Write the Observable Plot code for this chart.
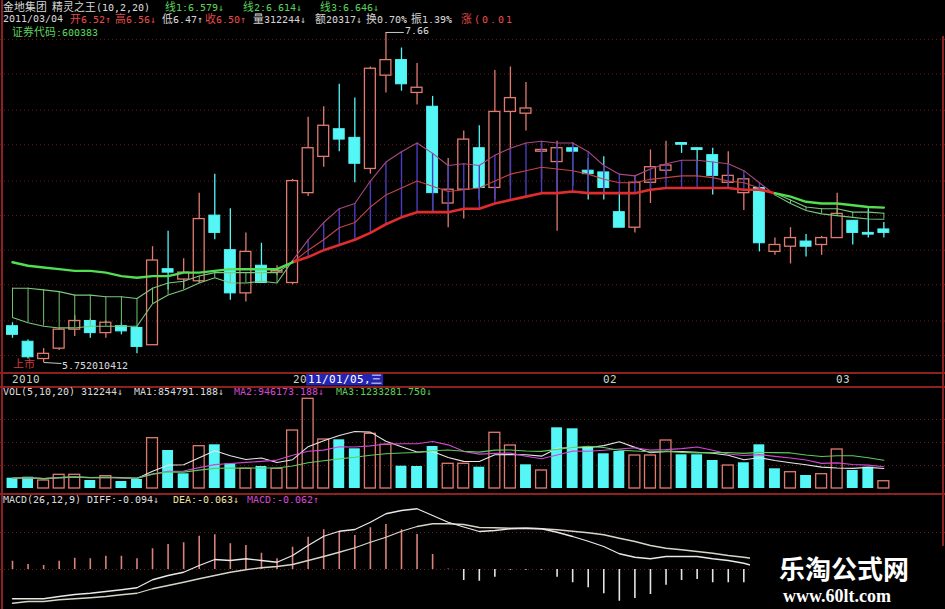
<!DOCTYPE html>
<html>
<head>
<meta charset="utf-8">
<script src="https://cdn.jsdelivr.net/npm/d3@7"></script>
<script src="https://cdn.jsdelivr.net/npm/@observablehq/plot@0.6"></script>
<style>
  @font-face { font-family: "TightMono"; src: local("DejaVu Sans Mono"), local("DejaVuSansMono"); ascent-override: 82%; descent-override: 18%; line-gap-override: 0%; }
  @font-face { font-family: "TightCJK"; src: local("Noto Sans CJK SC Regular"), local("NotoSansCJKsc-Regular"), local("Noto Sans CJK SC"); ascent-override: 86%; descent-override: 12%; line-gap-override: 0%; }
  @font-face { font-family: "TightCJKBold"; src: local("Noto Sans CJK SC Bold"), local("NotoSansCJKsc-Bold"); font-weight: bold; ascent-override: 86%; descent-override: 12%; line-gap-override: 0%; }
  html, body { margin:0; padding:0; background:#000; }
  #root { position:relative; width:945px; height:609px; background:#000; overflow:hidden; }
  .layer { position:absolute; left:0; }
  .txt { position:absolute; white-space:nowrap; font-family:"TightMono", "DejaVu Sans Mono", monospace; line-height:10px; height:10px; }
  .cjk { font-family:"TightCJK", "Noto Sans CJK SC", sans-serif; line-height:10px; }
  .sep { position:absolute; background:#8e2020; }
</style>
</head>
<body>
<div id="root"></div>
<script>
// ---------------- DATA ----------------
const opens  = [5.96,5.87,5.77,5.83,5.94,5.99,5.92,5.96,5.95,5.85, 6.29,6.23,6.22,6.60,6.40,6.15,6.31,6.27,6.21,6.73, 6.94,7.10,7.05,6.87,7.41,7.50,7.31,7.23,6.67,6.75, 6.99,6.76,7.20,7.19,6.97,6.91,6.99,6.86,6.85,6.62, 6.53,6.79,6.86,7.02,6.99,6.95,6.79,6.73,6.76,6.39, 6.42,6.45,6.43,6.47,6.57,6.50,6.52];
const highs  = [5.98,5.88,5.83,5.95,6.02,6.00,5.99,5.98,5.96,6.42, 6.51,6.35,6.73,6.84,6.64,6.50,6.44,6.31,6.81,7.17, 7.23,7.36,7.28,7.46,7.66,7.57,7.48,7.29,6.93,7.09, 7.12,7.44,7.46,7.37,7.02,7.03,7.02,6.93,6.94,6.73, 6.83,6.98,7.03,7.02,6.99,6.99,6.97,6.83,6.76,6.47, 6.53,6.49,6.48,6.73,6.57,6.64,6.56];
const lows   = [5.89,5.77,5.75,5.82,5.90,5.89,5.89,5.91,5.80,5.85, 6.17,6.18,6.21,6.46,6.11,6.10,6.21,6.25,6.20,6.71, 6.88,6.97,6.79,6.84,7.31,7.32,7.24,6.62,6.53,6.58, 6.69,6.69,6.77,7.09,6.81,6.51,6.77,6.69,6.69,6.53, 6.50,6.67,6.83,6.96,6.82,6.72,6.76,6.63,6.39,6.37, 6.32,6.36,6.37,6.47,6.43,6.47,6.47];
const closes = [5.91,5.78,5.80,5.94,5.99,5.92,5.98,5.93,5.84,6.34, 6.27,6.27,6.58,6.50,6.15,6.39,6.21,6.28,6.80,6.99, 7.12,7.04,6.90,7.45,7.50,7.36,7.34,6.73,6.75,7.04, 6.76,7.20,7.28,7.22,6.98,6.99,6.97,6.84,6.76,6.53, 6.79,6.88,6.89,7.01,6.98,6.83,6.83,6.81,6.44,6.43, 6.47,6.42,6.47,6.61,6.50,6.49,6.50];

// 精灵之王 (10,2,20): three band lines
const bandFast = [6.01,5.98,5.96,5.95,5.95,5.96,5.96,5.96,5.96,6.09, 6.14,6.17,6.21,6.24,6.21,6.21,6.22,6.21,6.34,6.46, 6.56,6.64,6.67,6.80,6.91,6.97,7.02,6.96,6.89,6.90, 6.89,6.95,6.99,7.02,7.03,7.02,7.02,6.97,6.89,6.84, 6.83,6.87,6.90,6.92,6.92,6.91,6.90,6.86,6.79,6.72, 6.67,6.63,6.61,6.60,6.59,6.58,6.579];
const bandMid  = [6.18,6.18,6.17,6.16,6.14,6.14,6.13,6.13,6.12,6.18, 6.21,6.22,6.25,6.27,6.27,6.27,6.27,6.27,6.33,6.40, 6.46,6.53,6.56,6.65,6.72,6.76,6.80,6.77,6.74,6.75, 6.76,6.80,6.84,6.86,6.88,6.87,6.86,6.84,6.81,6.79, 6.79,6.81,6.82,6.83,6.83,6.82,6.80,6.79,6.76,6.73, 6.69,6.65,6.64,6.64,6.62,6.62,6.614];
const bandSlow = [6.33,6.31,6.30,6.29,6.28,6.28,6.27,6.25,6.24,6.25, 6.25,6.27,6.27,6.28,6.29,6.29,6.29,6.29,6.33,6.36, 6.40,6.43,6.46,6.50,6.55,6.59,6.62,6.62,6.62,6.64, 6.64,6.67,6.69,6.71,6.73,6.73,6.74,6.73,6.73,6.73, 6.73,6.75,6.76,6.76,6.76,6.76,6.76,6.75,6.75,6.73, 6.71,6.68,6.67,6.67,6.66,6.65,6.646];

const volumes = [443000,486000,344000,589000,589000,344000,530000,301000,387000,2163000, 1634000,632000,1819000,1879000,1062000,847000,946000,847000,2494000,3857000, 2107000,2094000,1707000,2352000,1879000,959000,946000,1806000,1062000,1062000, 916000,2395000,1849000,1019000,774000,2610000,2567000,1776000,1492000,1591000, 1419000,1419000,2064000,1449000,1449000,1204000,989000,1105000,1879000,847000, 701000,559000,615000,1677000,774000,916000,312244];
const volUp = [0,0,1,1,1,0,1,0,0,1, 0,0,1,0,0,1,0,1,1,1, 1,0,0,1,1,0,0,0,1,1, 0,1,1,0,1,0,0,0,0,0, 1,1,1,0,0,0,1,0,0,0, 1,0,1,1,0,0,1];
const volMaPeriods = [5, 10, 20];

const macdDiff = [-0.117,-0.117,-0.117,-0.108,-0.100,-0.095,-0.088,-0.081,-0.073,-0.041, -0.024,-0.011,0.016,0.040,0.036,0.043,0.036,0.029,0.056,0.096, 0.133,0.153,0.160,0.189,0.223,0.236,0.243,0.216,0.189,0.170, 0.152,0.156,0.163,0.165,0.163,0.149,0.132,0.113,0.092,0.063, 0.049,0.043,0.052,0.052,0.052,0.043,0.036,0.025,0.008];
const macdDea  = [-0.135,-0.128,-0.128,-0.121,-0.117,-0.113,-0.108,-0.101,-0.095,-0.077, -0.064,-0.051,-0.037,-0.024,-0.011,-0.001,0.007,0.012,0.020,0.036, 0.052,0.069,0.087,0.109,0.129,0.153,0.172,0.183,0.183,0.180, 0.168,0.167,0.165,0.165,0.163,0.159,0.153,0.147,0.139,0.125, 0.112,0.096,0.085,0.079,0.072,0.065,0.056,0.049,0.040];
const macdBar  = [0.033,0.020,0.016,0.033,0.045,0.043,0.053,0.053,0.043,0.083, 0.100,0.107,0.133,0.139,0.103,0.096,0.065,0.043,0.089,0.129, 0.159,0.149,0.136,0.167,0.180,0.159,0.140,0.060,0.002,-0.044, -0.047,-0.031,-0.003,-0.003,-0.003,-0.031,-0.053,-0.073,-0.097,-0.127, -0.116,-0.100,-0.063,-0.044,-0.040,-0.053,-0.053,-0.053];

const axisLabels = ["2010", "02", "03"];
const axisLabelIdx = [0, 38, 53];
const cursorIdx = 18;
const cursorLabel = ["20", "11/01/05,三"];

const gridPrices = [7.62, 7.42, 7.21, 7.01, 6.80, 6.60, 6.40, 6.20, 5.99, 5.79];
const volGrid = [989000, 1978000, 2967000];
const macdGrid = [0, 0.148];

const headerTitle = ["金地集团", "精灵之王(10,2,20)"];
const headerLines = ["线1:6.579↓", "线2:6.614↓", "线3:6.646↓"];
const quoteRow = ["2011/03/04", "开6.52↑", "高6.56↓", "低6.47↑", "收6.50↑", "量312244↓", "额20317↓", "换0.70%", "振1.39%", "涨(0.01"];
const codeLabel = "证券代码:600383";
const listingTag = "上市";
const listingDate = "2010412";
const volHeader = ["VOL(5,10,20) 312244↓", "MA1:854791.188↓", "MA2:946173.188↓", "MA3:1233281.750↓"];
const macdHeader = ["MACD(26,12,9) DIFF:-0.094↓", "DEA:-0.063↓", "MACD:-0.062↑"];
const watermark = ["乐淘公式网", "www.60lt.com"];

// ---------------- LAYOUT / STYLE ----------------
const W = 945, STEP = 15.56, X0 = 12;
const N = opens.length;
const xDomain = [-X0 / STEP, (W - X0) / STEP];
const HALF = 0.35;
const UP = "#e07b70", DOWN = "#54f6f6", GRID = "#6e1c1c";
const MONO = "TightMono, DejaVu Sans Mono, monospace";
const CJK = "TightCJK, Noto Sans CJK SC, sans-serif";
const fmt2 = d3.format(".2f");

const root = document.getElementById("root");
function place(el, top) {
  const wrap = document.createElement("div");
  wrap.className = "layer";
  wrap.style.top = top + "px";
  wrap.appendChild(el);
  root.appendChild(wrap);
}
function addText(str, x, y, color, size, extra) {
  const d = document.createElement("div");
  d.className = "txt";
  d.style.left = x + "px";
  d.style.top = (y - 5) + "px";
  d.style.color = color;
  d.style.fontSize = size + "px";
  d.innerHTML = str.replace(/[\u4e00-\u9fff]/g, c => `<span class="cjk" style="font-size:${(size * 1.08).toFixed(1)}px">${c}</span>`);
  if (extra) Object.assign(d.style, extra);
  root.appendChild(d);
  return d;
}
function sep(x, y, w, h) {
  const d = document.createElement("div");
  d.className = "sep";
  Object.assign(d.style, {left: x + "px", top: y + "px", width: w + "px", height: h + "px"});
  root.appendChild(d);
}
const baseStyle = {background: "transparent", overflow: "visible", color: "#ccc"};

// candles
const candles = d3.range(N).map(i => ({i, o: opens[i], h: highs[i], l: lows[i], c: closes[i], up: closes[i] >= opens[i]}));
const upC = candles.filter(d => d.up), dnC = candles.filter(d => !d.up);

// band segments by trend (bull when fast above slow)
const trend = d3.range(N).map(i => bandFast[i] > bandSlow[i]);
const runs = [];
let s0 = 0;
for (let i = 1; i <= N; i++) {
  if (i === N || trend[i] !== trend[s0]) { runs.push({s: s0, e: Math.min(i, N - 1), bull: trend[s0]}); s0 = i; }
}
const bandSeries = {fast: bandFast, mid: bandMid, slow: bandSlow};
const bandPts = [];
runs.forEach((r, k) => {
  for (const name of ["fast", "mid", "slow"]) {
    for (let i = r.s; i <= r.e; i++) bandPts.push({i, v: bandSeries[name][i], key: name + k, name, bull: r.bull});
  }
});
const hatch = d3.range(N).map(i => ({i, a: bandFast[i], b: trend[i] ? bandSlow[i] : bandMid[i], bull: trend[i]}));
const sel = (name, bull) => bandPts.filter(d => d.name === name && d.bull === bull);

const imax = d3.maxIndex(highs), imin = d3.minIndex(lows);
const hiPt = [{i: imax, v: highs[imax]}];
const loPt = [{i: imin, v: lows[imin]}];

// ---------------- PRICE PANEL ----------------
const pricePlot = Plot.plot({
  width: W, height: 372, margin: 0,
  x: {domain: xDomain, axis: null},
  y: {domain: [5.692, 7.845], axis: null},
  style: baseStyle,
  marks: [
    Plot.ruleY(gridPrices, {stroke: GRID, strokeDasharray: "1,3", strokeWidth: 1}),
    Plot.ruleX(dnC, {x: "i", y1: "l", y2: "h", stroke: DOWN, strokeWidth: 1.3}),
    Plot.ruleX(upC, {x: "i", y1: "h", y2: d => Math.max(d.o, d.c), stroke: UP, strokeWidth: 1.3}),
    Plot.ruleX(upC, {x: "i", y1: d => Math.min(d.o, d.c), y2: "l", stroke: UP, strokeWidth: 1.3}),
    Plot.rect(dnC, {x1: d => d.i - HALF, x2: d => d.i + HALF, y1: "o", y2: "c", fill: DOWN, stroke: DOWN, strokeWidth: 1}),
    Plot.rect(upC, {x1: d => d.i - HALF, x2: d => d.i + HALF, y1: "o", y2: "c", fill: "none", stroke: UP, strokeWidth: 1.3}),
    Plot.ruleX(hatch.filter(d => d.bull), {x: "i", y1: "a", y2: "b", stroke: "#4a3cc0", strokeWidth: 1.4}),
    Plot.ruleX(hatch.filter(d => !d.bull), {x: "i", y1: "a", y2: "b", stroke: "#6cc46c", strokeWidth: 1}),
    Plot.line(sel("fast", true), {x: "i", y: "v", z: "key", stroke: "#a8487e", strokeWidth: 1.1}),
    Plot.line(sel("mid", true), {x: "i", y: "v", z: "key", stroke: "#c44444", strokeWidth: 1.1}),
    Plot.line(sel("slow", true), {x: "i", y: "v", z: "key", stroke: "#e02c2c", strokeWidth: 2.6}),
    Plot.line(sel("fast", false), {x: "i", y: "v", z: "key", stroke: "#7cc87c", strokeWidth: 1.1}),
    Plot.line(sel("mid", false), {x: "i", y: "v", z: "key", stroke: "#7cc87c", strokeWidth: 1.1}),
    Plot.line(sel("slow", false), {x: "i", y: "v", z: "key", stroke: "#52de52", strokeWidth: 2.4}),
    Plot.link(hiPt, {x1: "i", y1: "v", x2: d => d.i + 1.15, y2: "v", stroke: "#c8c8c8", strokeWidth: 1}),
    Plot.text(hiPt, {x: d => d.i + 1.2, y: "v", text: d => fmt2(d.v), textAnchor: "start", dy: -2, fill: "#d4d4d4", fontSize: 10, fontFamily: MONO}),
    Plot.link(loPt, {x1: "i", y1: "v", x2: d => d.i + 1.15, y2: d => d.v - 0.006, stroke: "#c8c8c8", strokeWidth: 1}),
    Plot.text(loPt, {x: d => d.i + 1.2, y: "v", text: d => fmt2(d.v) + listingDate, textAnchor: "start", dy: 3, fill: "#d4d4d4", fontSize: 10, fontFamily: MONO}),
    Plot.text(loPt, {x: "i", y: "v", text: () => listingTag, textAnchor: "end", dx: -9, dy: 2, fill: "#d43a3a", fontSize: 11, fontFamily: CJK})
  ]
});
place(pricePlot, 0);

// ---------------- X AXIS STRIP ----------------
const axisPlot = Plot.plot({
  width: W, height: 14, margin: 0,
  x: {domain: xDomain, axis: null},
  y: {domain: [0, 1], axis: null},
  style: baseStyle,
  marks: [
    Plot.rect([cursorIdx], {x1: d => d + 0.9, x2: d => d + 5.85, y1: 0.04, y2: 0.96, fill: "#2424b0"}),
    Plot.text(axisLabelIdx.map((i, k) => ({i, t: axisLabels[k]})), {x: "i", y: 0.5, text: "t", textAnchor: "start", dx: -1, fill: "#c4d4c4", fontSize: 10.5, fontFamily: MONO}),
    Plot.text([cursorIdx], {x: d => d, y: 0.5, text: () => cursorLabel[0], textAnchor: "start", dx: 0, fill: "#c4d4c4", fontSize: 10.5, fontFamily: MONO}),
    Plot.text([cursorIdx], {x: d => d, y: 0.5, text: () => cursorLabel[1], textAnchor: "start", dx: 15, fill: "#ffffff", fontSize: 10.5, fontFamily: MONO})
  ]
});
place(axisPlot, 372);

// ---------------- VOLUME PANEL ----------------
const volData = d3.range(N).map(i => ({i, v: volumes[i], up: volUp[i] === 1}));
const maColors = ["#e6e6e6", "#d048d0", "#5ccc5c"];
const volPlot = Plot.plot({
  width: W, height: 107, margin: 0,
  x: {domain: xDomain, axis: null},
  y: {domain: [-215000, 4386000], axis: null},
  style: baseStyle,
  marks: [
    Plot.ruleY(volGrid, {stroke: GRID, strokeDasharray: "1,3"}),
    Plot.rect(volData.filter(d => !d.up), {x1: d => d.i - HALF, x2: d => d.i + HALF, y1: 0, y2: "v", fill: DOWN}),
    Plot.rect(volData.filter(d => d.up), {x1: d => d.i - HALF, x2: d => d.i + HALF, y1: 0, y2: "v", fill: "none", stroke: UP, strokeWidth: 1.3}),
    ...volMaPeriods.map((k, j) => Plot.lineY(volData, Plot.windowY({k, anchor: "end", reduce: "mean"}, {x: "i", y: "v", stroke: maColors[j], strokeWidth: 1.1})))
  ]
});
place(volPlot, 386);

// ---------------- MACD PANEL ----------------
const macdBars = macdBar.map((m, i) => ({i, m}));
const diffPts = macdDiff.map((v, i) => ({i, v}));
const deaPts = macdDea.map((v, i) => ({i, v}));
const macdPlot = Plot.plot({
  width: W, height: 115, margin: 0,
  x: {domain: xDomain, axis: null},
  y: {domain: [-0.16, 0.30], axis: null},
  style: baseStyle,
  marks: [
    Plot.ruleY(macdGrid, {stroke: GRID, strokeDasharray: "1,3"}),
    Plot.ruleX(macdBars.filter(d => d.m >= 0), {x: "i", y1: 0, y2: "m", stroke: "#d8837a", strokeWidth: 1.6}),
    Plot.ruleX(macdBars.filter(d => d.m < 0), {x: "i", y1: 0, y2: "m", stroke: "#e4e4e4", strokeWidth: 1.6}),
    Plot.line(deaPts, {x: "i", y: "v", stroke: "#d6d6c8", strokeWidth: 1.3}),
    Plot.line(diffPts, {x: "i", y: "v", stroke: "#e8e8e8", strokeWidth: 1.3})
  ]
});
place(macdPlot, 494);

// ---------------- FRAME LINES ----------------
sep(1, 0, 2, 609);
sep(942, 36, 1.5, 573);
sep(0, 372, W, 1.5);
sep(0, 386, W, 1.5);
sep(0, 493, W, 1.5);

// ---------------- HEADERS ----------------
const r1x = [3, 52], r1c = ["#d8d8d8", "#d8d8d8"];
headerTitle.forEach((t, k) => addText(t, r1x[k], 7, r1c[k], 10));
const r1lx = [165, 243, 320];
headerLines.forEach((t, k) => addText(t, r1lx[k], 7, "#5ad05a", 10));
const r2x = [3, 70, 115, 162, 205, 253, 315, 366, 411, 461];
const r2c = ["#d4d4d4", "#e24a4a", "#e24a4a", "#d4d4d4", "#e24a4a", "#d4d4d4", "#d4d4d4", "#d4d4d4", "#d4d4d4", "#e24a4a"];
quoteRow.forEach((t, k) => {
  const el = addText(t, r2x[k], 19, r2c[k], 10);
  if (k === quoteRow.length - 1) el.style.letterSpacing = "2px";
});
addText(codeLabel, 12, 32, "#5ad05a", 10);

const vx = [3, 134, 234, 336], vc = ["#d8d8d8", "#d8d8d8", "#d048d0", "#5ccc5c"];
volHeader.forEach((t, k) => addText(t, vx[k], 392, vc[k], 10.4));
const mx = [3, 173, 247], mc = ["#d8d8d8", "#e6dea0", "#d048d0"];
macdHeader.forEach((t, k) => addText(t, mx[k], 500, mc[k], 10.4));

// ---------------- WATERMARK ----------------
const wm = document.createElement("div");
Object.assign(wm.style, {position: "absolute", left: "750px", top: "546px", width: "195px", height: "63px", background: "#000"});
root.appendChild(wm);
const w1 = document.createElement("div");
w1.textContent = watermark[0];
Object.assign(w1.style, {position: "absolute", left: "779px", top: "557px", fontFamily: "TightCJKBold, Noto Sans CJK SC", fontWeight: "bold", fontSize: "26px", lineHeight: "26px", height: "26px", color: "#ffffff", whiteSpace: "nowrap"});
root.appendChild(w1);
const w2 = document.createElement("div");
w2.textContent = watermark[1];
Object.assign(w2.style, {position: "absolute", left: "783px", top: "586px", fontFamily: "Liberation Serif", fontWeight: "bold", fontSize: "18px", lineHeight: "20px", color: "#ffffff", whiteSpace: "nowrap"});
root.appendChild(w2);
</script>
</body>
</html>
